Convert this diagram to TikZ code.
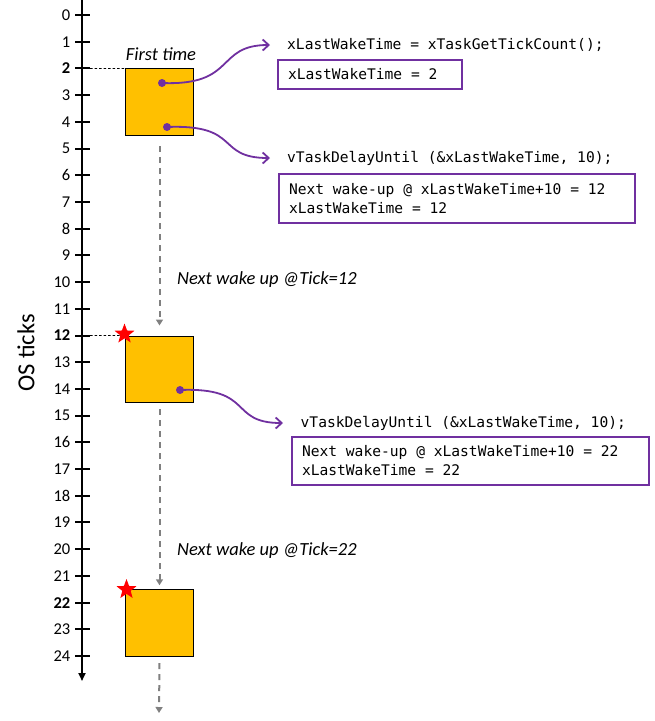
\documentclass[tikz,border=0pt]{standalone}
\usepackage{fontspec}
\setmainfont{Carlito}
\newfontfamily\codefont{DejaVu Sans Mono}
\usetikzlibrary{arrows.meta,shapes.geometric,calc}
\definecolor{ppurple}{HTML}{7030A0}
\definecolor{porange}{HTML}{FFC000}
\definecolor{pgray}{HTML}{808080}
\begin{document}
\begin{tikzpicture}[x=1pt,y=-1pt,
  axisline/.style={line width=2.4pt,-{Triangle[length=8pt,width=7pt]}},
  tickmark/.style={line width=2pt},
  ticklabel/.style={anchor=east,inner sep=0pt,font=\fontsize{16.5}{19}\selectfont},
  guide/.style={line width=0.7pt,dash pattern=on 2.5pt off 2pt},
  taskbox/.style={draw=black,line width=1pt,fill=porange,minimum width=68pt,anchor=north west,inner sep=0pt},
  flow/.style={pgray,line width=2pt,dash pattern=on 6pt off 5pt,-{Triangle[length=6pt,width=7pt]}},
  pdot/.style={circle,fill=ppurple,minimum size=8pt,inner sep=0pt},
  link/.style={ppurple,line width=1.8pt,-{Straight Barb[length=6pt,width=11pt]}},
  code/.style={anchor=west,inner sep=0pt,font=\codefont\fontsize{14.6}{19}\selectfont},
  codebox/.style={draw=ppurple,line width=2pt,anchor=north west,align=left,inner xsep=10pt,inner ysep=0pt,
    font=\codefont\fontsize{14.6}{19}\selectfont,
    execute at begin node={\spaceskip=\fontdimen2\font\xspaceskip=\fontdimen2\font\relax}},
  note/.style={font=\itshape\fontsize{18.5}{22}\selectfont,inner sep=0pt},
  starmark/.style={star,star points=5,star point ratio=2.4,fill=red,minimum size=21pt,inner sep=0pt}
]
\useasboundingbox (0,0) rectangle (655,721);

% axis
\coordinate (atop) at (82,0);
\coordinate (abot) at (82,681);
\draw[axisline] (atop) -- (abot);
\foreach \i in {0,...,24}{
  \pgfmathsetmacro\yy{15+26.71*\i}
  \coordinate (t\i) at (82,\yy);
  \draw[tickmark] ([xshift=-7pt]t\i) -- ([xshift=8pt]t\i);
  \node[ticklabel] (l\i) at (70.5,\yy) {\ifnum\i=2 \bfseries\fi\ifnum\i=12 \bfseries\fi\ifnum\i=22 \bfseries\fi\i};
}
\node[rotate=90,font=\fontsize{24.5}{28}\selectfont,inner sep=0pt] (ost) at (26,353) {OS ticks};

% task boxes
\node[taskbox,minimum height=66.8pt] (b1) at (125,68.4) {};
\node[taskbox,minimum height=66.8pt] (b2) at (125,335.5) {};
\node[taskbox,minimum height=66.8pt] (b3) at (125,589.3) {};

\draw[guide] ([xshift=8pt]t2) -- (b1.north west);
\draw[guide] ([xshift=8pt]t12) -- (b2.north west);

\node[starmark] (s2) at (124.5,334) {};
\node[starmark] (s3) at (126.5,589.5) {};

\node[note] (ft) at (161,54) {First time};
\node[note,anchor=west] (nw1) at (177,280) {Next wake up @Tick=12};
\node[note,anchor=west] (nw2) at (177,551) {Next wake up @Tick=22};

% flow arrows
\coordinate (fend) at (159,713);
\draw[flow] ([yshift=-10pt]b1.south) -- ([yshift=10pt]b2.north);
\draw[flow] ([yshift=-6pt]b2.south) -- ([yshift=4pt]b3.north);
\draw[flow] ([yshift=-6pt]b3.south) -- (fend);

% code
\node[code] (h1) at (287,45) {xLastWakeTime = xTaskGetTickCount();};
\node[codebox,text width=164pt,minimum height=29pt] (c1) at (277,59) {xLastWakeTime = 2};
\node[code] (h2) at (287,158) {vTaskDelayUntil (\&xLastWakeTime, 10);};
\node[codebox,text width=336pt,minimum height=49pt] (c2) at (278,173) {Next wake-up @ xLastWakeTime+10 = 12\\xLastWakeTime = 12};
\node[code] (h3) at (300.5,423) {vTaskDelayUntil (\&xLastWakeTime, 10);};
\node[codebox,text width=337pt,minimum height=48pt] (c3) at (291,436) {Next wake-up @ xLastWakeTime+10 = 22\\xLastWakeTime = 22};

% links
\node[pdot] (d1) at (162,83) {};
\node[pdot] (d2) at (167,127) {};
\node[pdot] (d3) at (180,390) {};
\coordinate (e1) at ([xshift=-17pt]h1.west);
\coordinate (e2) at ([xshift=-17pt]h2.west);
\coordinate (e3) at ([xshift=-17.5pt]h3.west);
\draw[link] (d1.center) .. controls +(75,3) and +(-55,0) .. (e1);
\draw[link] (d2.center) .. controls +(75,-3) and +(-55,0) .. (e2);
\draw[link] (d3.center) .. controls +(75,-3) and +(-55,0) .. (e3);
\end{tikzpicture}
\end{document}
